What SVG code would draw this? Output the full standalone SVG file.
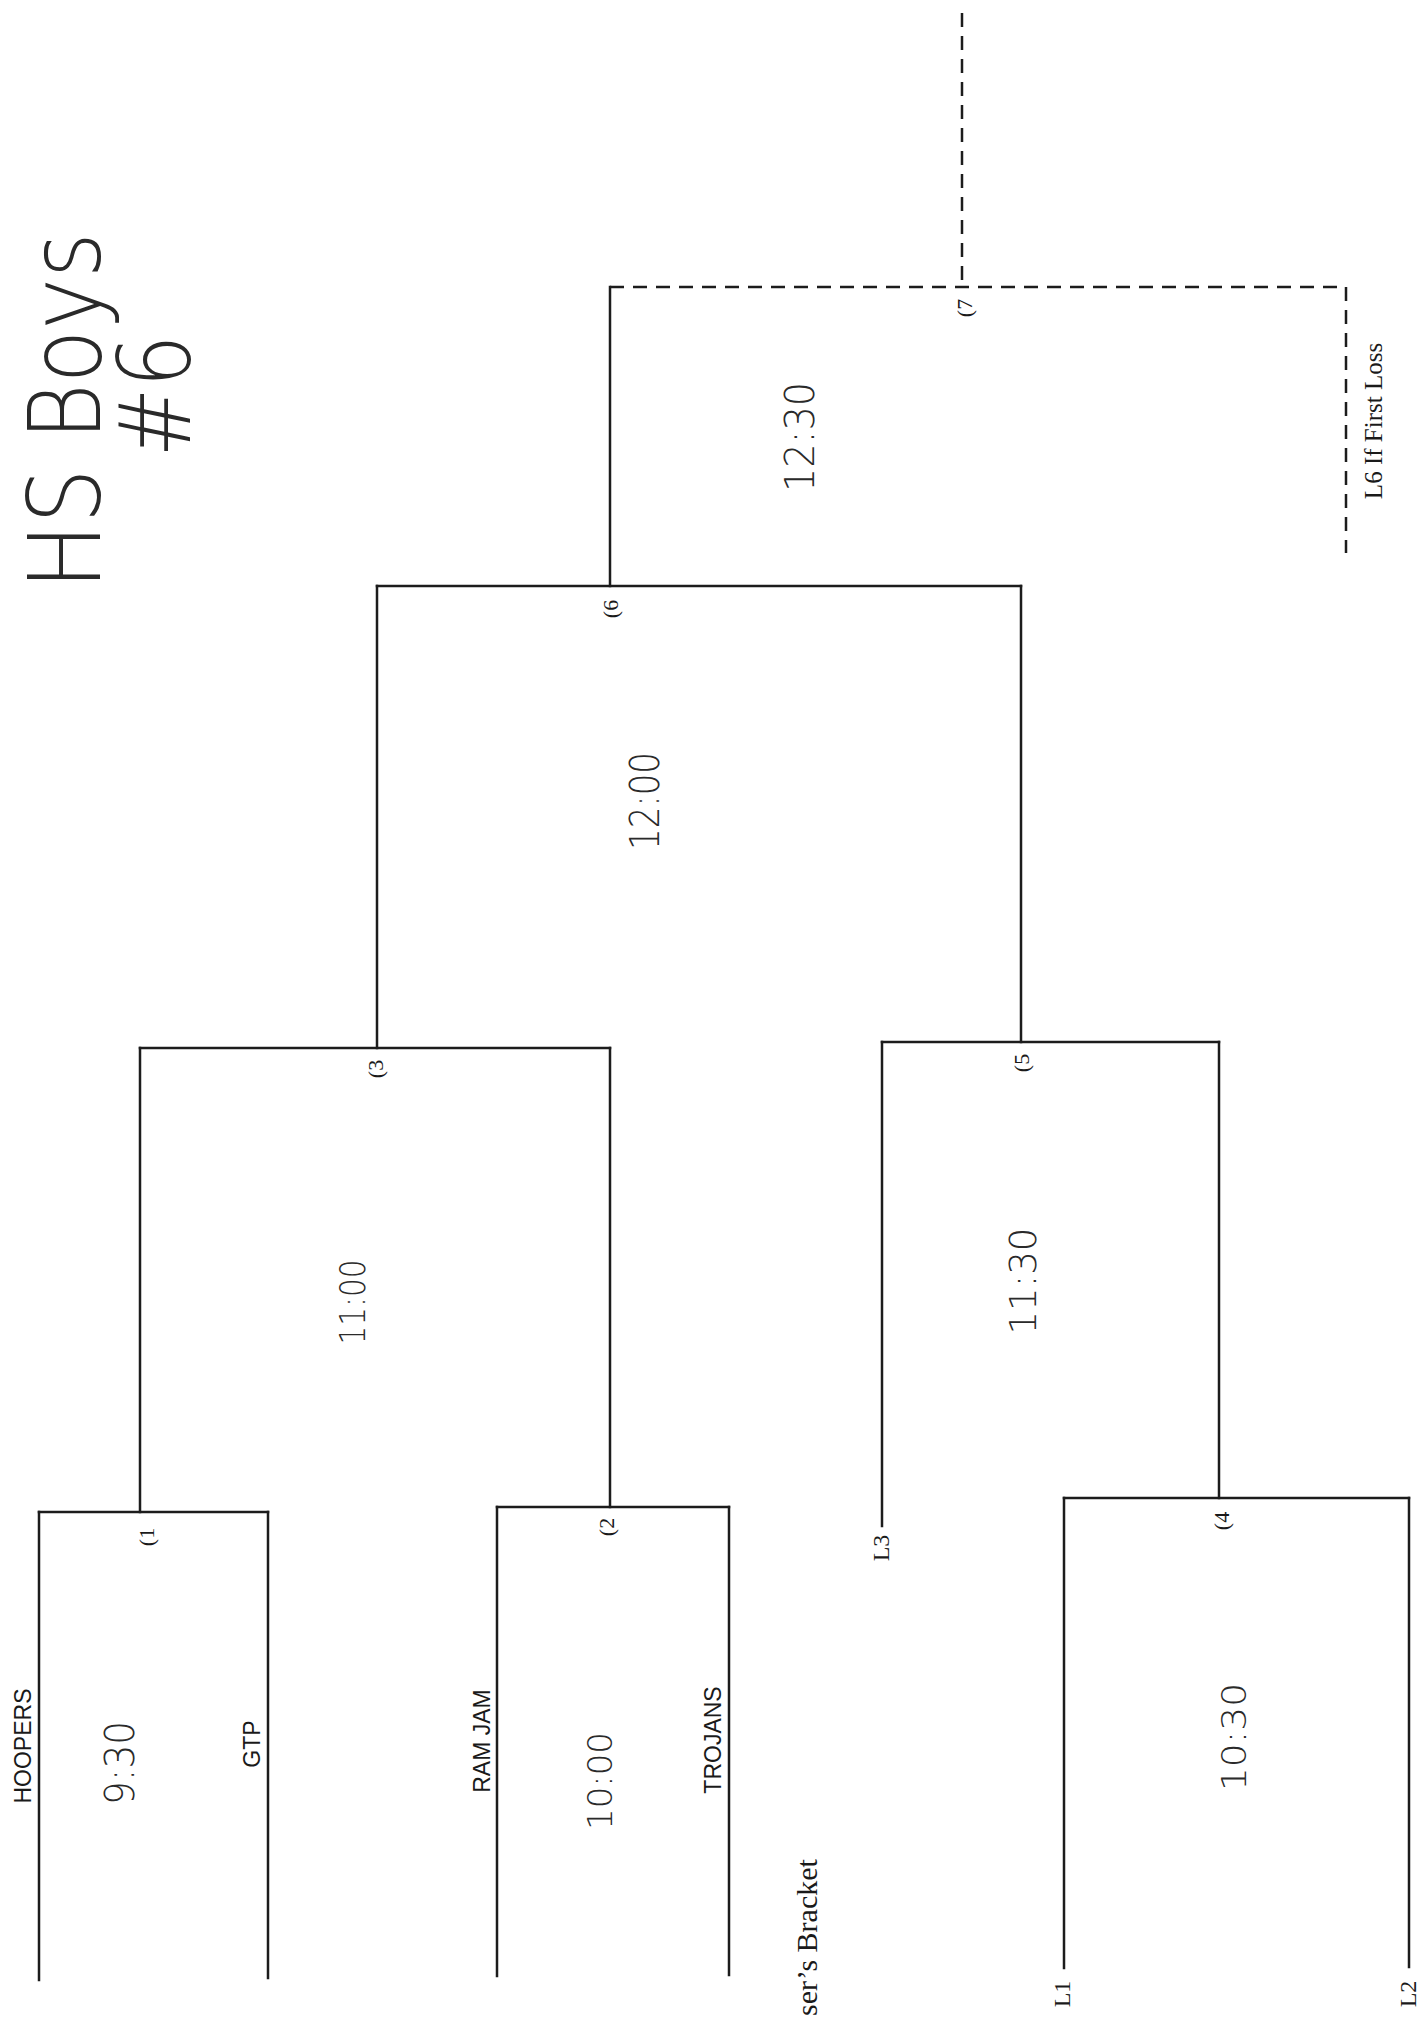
<svg xmlns="http://www.w3.org/2000/svg" width="1421" height="2028" viewBox="0 0 1421 2028">
<style>
.ln{stroke:#1c1c1c;stroke-width:2.5;fill:none;stroke-linecap:square}
.dl{stroke:#1c1c1c;stroke-width:2.5;fill:none;stroke-dasharray:14 9}
.team{font-family:"Liberation Sans",Arial,sans-serif;font-size:23px;fill:#1a1a1a}
.ser{font-family:"Liberation Serif","Times New Roman",serif;fill:#1a1a1a}
.num{font-family:"Liberation Serif","Times New Roman",serif;font-size:22px;fill:#1a1a1a}
.hand{font-family:"DejaVu Sans","Liberation Sans",sans-serif;font-weight:200;fill:#2a2a2a}
</style>
<rect width="1421" height="2028" fill="#ffffff"/>

<g id="title">
<text class="hand" font-size="100" text-anchor="middle" textLength="357" lengthAdjust="spacingAndGlyphs" transform="translate(100,411) rotate(-90)">HS Boys</text>
<text class="hand" font-size="100" text-anchor="middle" textLength="123" lengthAdjust="spacingAndGlyphs" transform="translate(190,396) rotate(-90)">#6</text>
</g>

<g id="connectors">
<line class="ln" x1="39" y1="1512" x2="39" y2="1980"/>
<line class="ln" x1="268" y1="1512" x2="268" y2="1978"/>
<line class="ln" x1="497" y1="1507" x2="497" y2="1976"/>
<line class="ln" x1="729" y1="1507" x2="729" y2="1975"/>
<line class="ln" x1="1064" y1="1498" x2="1064" y2="1968"/>
<line class="ln" x1="1409" y1="1498" x2="1409" y2="1967"/>
<line class="ln" x1="882" y1="1042" x2="882" y2="1526"/>
<line class="ln" x1="140" y1="1048" x2="140" y2="1512"/>
<line class="ln" x1="610" y1="1048" x2="610" y2="1507"/>
<line class="ln" x1="1219" y1="1042" x2="1219" y2="1498"/>
<line class="ln" x1="377" y1="586" x2="377" y2="1048"/>
<line class="ln" x1="1021" y1="586" x2="1021" y2="1042"/>
<line class="ln" x1="610" y1="287" x2="610" y2="586"/>
<line class="dl" x1="1346" y1="287" x2="1346" y2="553"/>
<line class="dl" x1="962" y1="13" x2="962" y2="287"/>
</g>

<g id="team-hoopers"><text class="team" text-anchor="middle" transform="translate(31,1746) rotate(-90)">HOOPERS</text></g>
<g id="team-gtp"><text class="team" text-anchor="middle" transform="translate(260,1744) rotate(-90)">GTP</text></g>
<g id="team-ramjam"><text class="team" text-anchor="middle" transform="translate(490,1741) rotate(-90)">RAM JAM</text></g>
<g id="team-trojans"><text class="team" text-anchor="middle" transform="translate(721,1740) rotate(-90)">TROJANS</text></g>
<g id="slot-l1"><text class="ser" font-size="24" text-anchor="middle" transform="translate(1070,1994) rotate(-90)">L1</text></g>
<g id="slot-l2"><text class="ser" font-size="24" text-anchor="middle" transform="translate(1416,1994) rotate(-90)">L2</text></g>
<g id="slot-l3"><text class="ser" font-size="24" text-anchor="middle" transform="translate(889,1548) rotate(-90)">L3</text></g>
<g id="slot-l6"><text class="ser" font-size="25" text-anchor="middle" transform="translate(1382,421) rotate(-90)">L6 If First Loss</text></g>
<g id="label-losers"><text class="ser" font-size="30" text-anchor="start" transform="translate(817,2016) rotate(-90)">ser’s Bracket</text></g>

<g id="game-1">
<line class="ln" x1="39" y1="1512" x2="268" y2="1512"/>
<text class="num" text-anchor="middle" transform="translate(154,1537) rotate(-90)">(1</text>
<text class="hand" font-size="40" text-anchor="middle" textLength="84" lengthAdjust="spacingAndGlyphs" transform="translate(134,1763) rotate(-90)">9:30</text>
</g>
<g id="game-2">
<line class="ln" x1="497" y1="1507" x2="729" y2="1507"/>
<text class="num" text-anchor="middle" transform="translate(614,1527) rotate(-90)">(2</text>
<text class="hand" font-size="34" text-anchor="middle" textLength="98" lengthAdjust="spacingAndGlyphs" transform="translate(612,1781) rotate(-90)">10:00</text>
</g>
<g id="game-3">
<line class="ln" x1="140" y1="1048" x2="610" y2="1048"/>
<text class="num" text-anchor="middle" transform="translate(383,1069) rotate(-90)">(3</text>
<text class="hand" font-size="36" text-anchor="middle" textLength="85" lengthAdjust="spacingAndGlyphs" transform="translate(365,1302) rotate(-90)">11:00</text>
</g>
<g id="game-4">
<line class="ln" x1="1064" y1="1498" x2="1409" y2="1498"/>
<text class="num" text-anchor="middle" transform="translate(1229,1521) rotate(-90)">(4</text>
<text class="hand" font-size="34" text-anchor="middle" textLength="108" lengthAdjust="spacingAndGlyphs" transform="translate(1246,1737) rotate(-90)">10:30</text>
</g>
<g id="game-5">
<line class="ln" x1="882" y1="1042" x2="1219" y2="1042"/>
<text class="num" text-anchor="middle" transform="translate(1029,1063) rotate(-90)">(5</text>
<text class="hand" font-size="38" text-anchor="middle" textLength="107" lengthAdjust="spacingAndGlyphs" transform="translate(1036,1281) rotate(-90)">11:30</text>
</g>
<g id="game-6">
<line class="ln" x1="377" y1="586" x2="1021" y2="586"/>
<text class="num" text-anchor="middle" transform="translate(618,609) rotate(-90)">(6</text>
<text class="hand" font-size="40" text-anchor="middle" textLength="98" lengthAdjust="spacingAndGlyphs" transform="translate(659,801) rotate(-90)">12:00</text>
</g>
<g id="game-7">
<line class="dl" x1="610" y1="287" x2="1346" y2="287"/>
<text class="num" text-anchor="middle" transform="translate(972,308) rotate(-90)">(7</text>
<text class="hand" font-size="40" text-anchor="middle" textLength="110" lengthAdjust="spacingAndGlyphs" transform="translate(814,437) rotate(-90)">12:30</text>
</g>
</svg>
